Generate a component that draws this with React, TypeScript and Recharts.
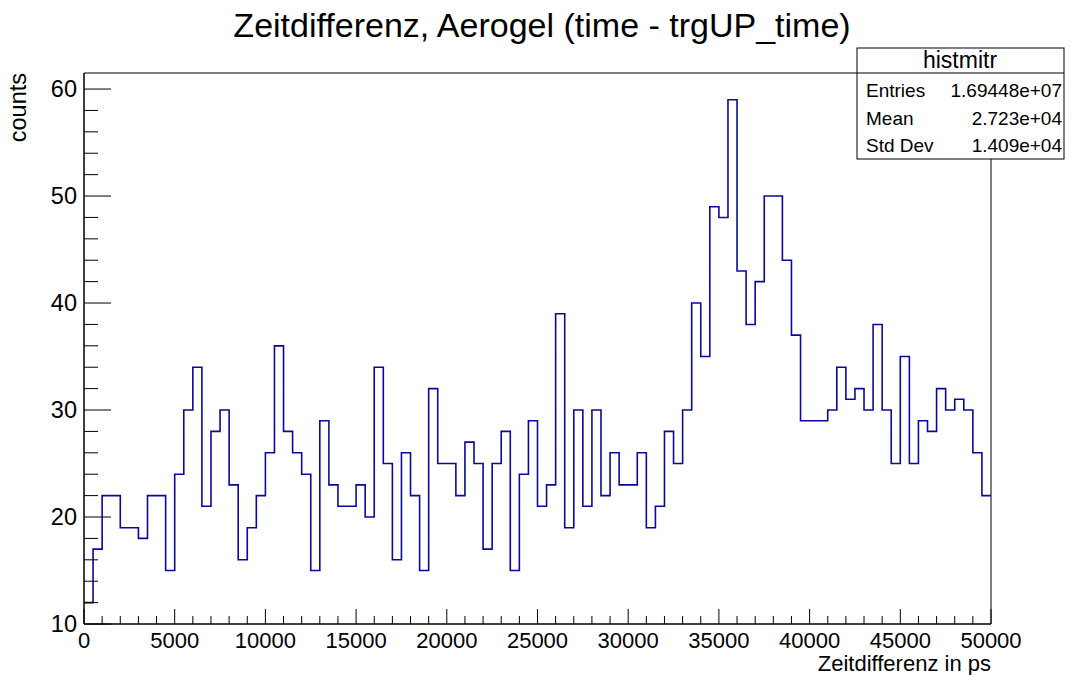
import React from 'react';
import { LineChart, Line, XAxis, YAxis, ReferenceArea } from 'recharts';

// bin contents, 100 bins of 500 ps from 0 to 50000
const binWidth = 500;
const counts = [
  12, 17, 22, 22, 19, 19, 18, 22, 22, 15,
  24, 30, 34, 21, 28, 30, 23, 16, 19, 22,
  26, 36, 28, 26, 24, 15, 29, 23, 21, 21,
  23, 20, 34, 25, 16, 26, 22, 15, 32, 25,
  25, 22, 27, 25, 17, 25, 28, 15, 24, 29,
  21, 23, 39, 19, 30, 21, 30, 22, 26, 23,
  23, 26, 19, 21, 28, 25, 30, 40, 35, 49,
  48, 59, 43, 38, 42, 50, 50, 44, 37, 29,
  29, 29, 30, 34, 31, 32, 30, 38, 30, 25,
  35, 25, 29, 28, 32, 30, 31, 30, 26, 22,
];

const xTicks = Array.from({ length: 51 }, (_, i) => i * 1000);
const xMajor = [0, 5000, 10000, 15000, 20000, 25000, 30000, 35000, 40000, 45000, 50000];
const yTicks = Array.from({ length: 26 }, (_, i) => 10 + i * 2);
const yMajor = [10, 20, 30, 40, 50, 60];

const statsRows = [
  { label: 'Entries', value: '1.69448e+07' },
  { label: 'Mean', value: '2.723e+04' },
  { label: 'Std Dev', value: '1.409e+04' },
];

// left bin edges + closing point at the upper edge
const data = [
  ...counts.map((c, i) => ({ x: i * binWidth, y: c })),
  { x: counts.length * binWidth, y: counts[counts.length - 1] },
];

const font = '"Liberation Sans", Arial, Helvetica, sans-serif';

const YTick = (props: any) => {
  const { x, y, payload } = props;
  const major = yMajor.includes(payload.value);
  return (
    <g>
      <line x1={x} x2={x + (major ? 27 : 14)} y1={y} y2={y} stroke="#000" strokeWidth={1} />
      {major && (
        <text x={x - 7} y={y} textAnchor="end" dominantBaseline="central" fontSize={23.5} fontFamily={font} fill="#000">
          {payload.value}
        </text>
      )}
    </g>
  );
};

const XTick = (props: any) => {
  const { x, y, payload } = props;
  const major = xMajor.includes(payload.value);
  return (
    <g>
      <line x1={x} x2={x} y1={y} y2={y - (major ? 15 : 8)} stroke="#000" strokeWidth={1} />
      {major && (
        <text x={x} y={y + 24} textAnchor="middle" fontSize={22} fontFamily={font} fill="#000">
          {payload.value}
        </text>
      )}
    </g>
  );
};

export default function App() {
  return (
    <div style={{ position: 'absolute', left: 0, top: 0, width: 1072, height: 675, background: '#fff' }}>
      <LineChart width={1072} height={675} data={data} margin={{ top: 73, right: 81, bottom: 11, left: 24 }}>
        <ReferenceArea x1={0} x2={50000} y1={10} y2={61.5} fill="none" stroke="#000" strokeWidth={1} ifOverflow="visible" />
        <XAxis
          dataKey="x"
          type="number"
          domain={[0, 50000]}
          ticks={xTicks}
          interval={0}
          tick={<XTick />}
          tickSize={0}
          tickMargin={0}
          tickLine={false}
          axisLine={{ stroke: '#000' }}
          height={40}
          allowDataOverflow
        />
        <YAxis
          type="number"
          domain={[10, 61.5]}
          ticks={yTicks}
          interval={0}
          tick={<YTick />}
          tickSize={0}
          tickMargin={0}
          tickLine={false}
          axisLine={{ stroke: '#000' }}
          width={60}
          allowDataOverflow
        />
        <Line
          dataKey="y"
          type="stepAfter"
          stroke="#0a0a9a"
          strokeWidth={1.6}
          dot={false}
          activeDot={false}
          isAnimationActive={false}
        />
      </LineChart>
      <svg width={1072} height={675} style={{ position: 'absolute', left: 0, top: 0, pointerEvents: 'none' }} fontFamily={font}>
        <text x={542} y={37} textAnchor="middle" fontSize={34} fill="#000">
          Zeitdifferenz, Aerogel (time - trgUP_time)
        </text>
        <text transform="translate(26,73) rotate(-90)" textAnchor="end" fontSize={23.5} fill="#000">
          counts
        </text>
        <text x={991} y={671} textAnchor="end" fontSize={22} fill="#000">
          Zeitdifferenz in ps
        </text>
        <rect x={857} y={48} width={207} height={111} fill="#fff" stroke="#000" strokeWidth={1} />
        <line x1={857} x2={1064} y1={73} y2={73} stroke="#000" strokeWidth={1} />
        <text x={960} y={68} textAnchor="middle" fontSize={23} fill="#000">histmitr</text>
        {statsRows.map((r, i) => (
          <g key={r.label}>
            <text x={866} y={97 + i * 27.5} fontSize={19} fill="#000">{r.label}</text>
            <text x={1062} y={97 + i * 27.5} textAnchor="end" fontSize={19} fill="#000">{r.value}</text>
          </g>
        ))}
      </svg>
    </div>
  );
}
